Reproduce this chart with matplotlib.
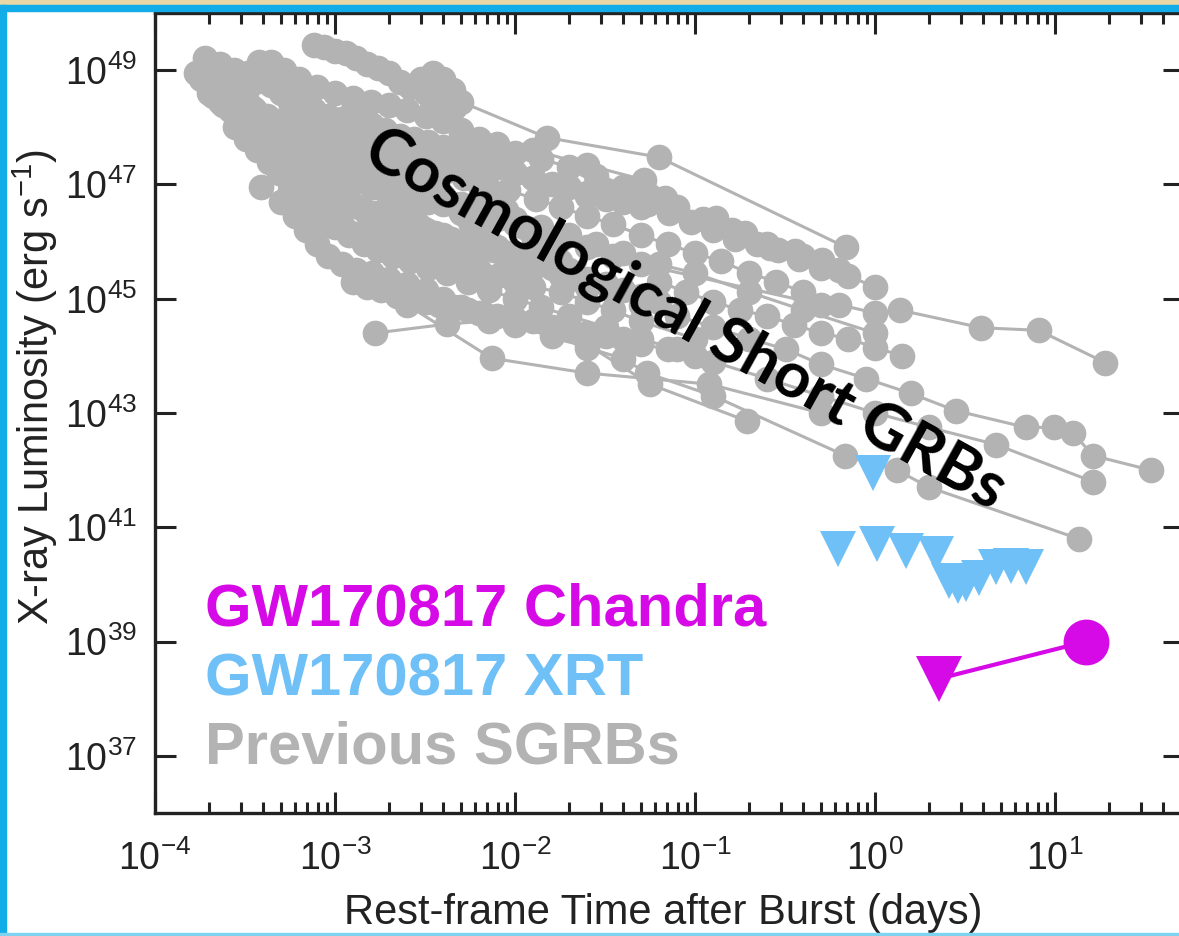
import matplotlib.pyplot as plt
from matplotlib.patches import Rectangle
from matplotlib.ticker import LogLocator, NullLocator, NullFormatter

plt.rcParams['font.family'] = 'Liberation Sans'
plt.rcParams['mathtext.fontset'] = 'custom'
plt.rcParams['mathtext.rm'] = 'Liberation Sans'
plt.rcParams['mathtext.it'] = 'Liberation Sans:italic'
plt.rcParams['mathtext.bf'] = 'Liberation Sans:bold'
plt.rcParams['mathtext.default'] = 'regular'
plt.rcParams['axes.unicode_minus'] = False

# Previous short GRBs: rest-frame time (days), X-ray luminosity (erg/s)
grb_a = ([1.9e-4, 2.3e-4, 2.75e-4, 3.3e-4, 3.8e-4, 4.4e-4, 5.2e-4, 6.3e-4, 7.9e-4, 1.0e-3, 1.26e-3,
          1.58e-3, 2.0e-3, 2.5e-3, 3.2e-3, 4.0e-3, 5.0e-3, 6.3e-3, 7.9e-3, 0.010, 0.014, 0.020, 0.028,
          0.040, 0.056, 0.079, 0.11, 0.16, 0.25, 0.40, 0.63],
         [1.6e49, 1.3e49, 1.0e49, 8.9e48, 1.4e49, 1.4e49, 1.0e49, 7.1e48, 5.0e48, 4.0e48, 3.2e48,
          2.8e48, 2.5e48, 2.0e48, 1.6e48, 1.3e48, 8.9e47, 6.3e47, 5.0e47, 3.5e47, 2.8e47, 2.0e47, 1.4e47,
          8.9e46, 6.3e46, 4.0e46, 2.5e46, 1.6e46, 8.9e45, 5.6e45, 3.2e45])
grb_b = ([1.7e-4, 2.1e-4, 2.5e-4, 3.0e-4, 3.6e-4, 4.4e-4, 5.2e-4, 6.3e-4, 7.6e-4, 9.1e-4, 1.1e-3,
          1.3e-3, 1.6e-3, 1.9e-3, 2.3e-3, 2.75e-3, 3.3e-3, 4.0e-3, 5.0e-3, 6.3e-3, 7.9e-3, 0.010,
          0.0126, 0.018, 0.025],
         [8.9e48, 1.0e49, 7.1e48, 5.6e48, 6.3e48, 5.6e48, 4.0e48, 2.8e48, 2.0e48, 1.6e48, 1.4e48,
          1.3e48, 1.1e48, 8.9e47, 7.1e47, 6.3e47, 5.6e47, 4.5e47, 3.5e47, 2.8e47, 2.0e47, 1.6e47,
          1.3e47, 8.9e46, 6.3e46])
grb_c = ([1.8e-4, 2.1e-4, 2.4e-4, 2.75e-4, 3.2e-4, 3.6e-4, 4.2e-4, 4.8e-4, 5.5e-4, 6.3e-4, 7.6e-4,
          9.1e-4, 1.1e-3, 1.3e-3, 1.6e-3, 2.0e-3, 2.5e-3, 3.2e-3, 4.0e-3, 5.2e-3, 6.9e-3, 9.1e-3,
          0.013, 0.018, 0.025, 0.035, 0.050, 0.071, 0.10, 0.14, 0.20, 0.28, 0.40, 0.63, 1.0, 1.38,
          3.9, 8.1, 19],
         [7.1e48, 5.6e48, 4.0e48, 3.2e48, 2.5e48, 2.0e48, 1.6e48, 1.3e48, 1.1e48, 1.0e48, 8.9e47,
          7.9e47, 6.3e47, 5.0e47, 4.0e47, 3.2e47, 2.5e47, 2.0e47, 1.6e47, 1.3e47, 1.0e47, 7.9e46,
          5.6e46, 4.0e46, 2.8e46, 2.0e46, 1.3e46, 8.9e45, 6.3e45, 4.5e45, 2.8e45, 2.0e45, 1.3e45,
          7.9e44, 5.6e44, 6.3e44, 3.1e44, 2.8e44, 7.6e43])
grb_d = ([3.2e-4, 3.6e-4, 4.2e-4, 5.0e-4, 6.0e-4, 7.2e-4, 8.7e-4, 1.05e-3, 1.26e-3, 1.5e-3, 1.8e-3,
          2.2e-3, 2.6e-3, 3.2e-3, 4.0e-3, 5.0e-3, 6.3e-3, 7.9e-3, 0.010, 0.0126, 0.018, 0.025, 0.035,
          0.050, 0.50],
         [1.6e48, 1.3e48, 1.0e48, 7.1e47, 5.0e47, 4.0e47, 3.2e47, 2.8e47, 2.5e47, 2.2e47, 1.8e47,
          1.4e47, 1.1e47, 8.9e46, 6.3e46, 4.5e46, 3.2e46, 2.5e46, 2.0e46, 1.6e46, 1.1e46, 7.9e45,
          5.6e45, 4.0e45, 7.9e44])
grb_e = ([2.1e-4, 2.4e-4, 2.75e-4, 3.2e-4, 3.6e-4, 4.2e-4, 4.8e-4, 5.5e-4, 6.3e-4, 7.6e-4, 9.1e-4,
          1.1e-3, 1.3e-3, 1.6e-3, 1.9e-3, 2.3e-3, 2.75e-3, 3.3e-3, 4.0e-3, 5.0e-3, 6.3e-3, 7.9e-3,
          0.010, 0.014, 0.020, 0.028, 0.040, 0.063, 0.10, 0.20, 0.40, 1.0],
         [3.5e48, 2.5e48, 1.8e48, 1.3e48, 8.9e47, 6.3e47, 4.5e47, 3.2e47, 2.8e47, 2.0e47, 1.6e47,
          1.3e47, 1.1e47, 8.9e46, 7.9e46, 7.1e46, 5.6e46, 5.0e46, 4.5e46, 4.0e46, 3.5e46, 2.8e46,
          2.2e46, 1.8e46, 1.3e46, 8.9e45, 6.3e45, 4.0e45, 2.8e45, 1.3e45, 6.3e44, 2.5e44])
grb_f = ([2.0e-4, 2.3e-4, 2.6e-4, 3.0e-4, 3.5e-4, 4.0e-4, 4.6e-4, 5.2e-4, 6.0e-4, 6.9e-4, 7.9e-4,
          9.5e-4, 1.15e-3, 1.4e-3, 1.66e-3, 2.0e-3, 2.5e-3, 3.2e-3, 4.0e-3, 5.0e-3, 6.3e-3, 8.9e-3,
          0.0126, 0.018, 0.025, 0.035, 0.050, 0.079, 0.126, 0.20, 0.32, 0.50, 0.89, 1.58, 2.8, 6.9,
          9.8, 12.6, 16.2, 34],
         [4.0e48, 2.8e48, 2.0e48, 1.3e48, 7.9e47, 5.0e47, 3.2e47, 2.2e47, 1.6e47, 1.1e47, 8.9e46,
          7.1e46, 5.6e46, 4.0e46, 3.2e46, 2.5e46, 2.0e46, 1.6e46, 1.3e46, 1.0e46, 7.1e45, 5.0e45,
          3.5e45, 2.5e45, 1.8e45, 1.3e45, 7.9e44, 5.0e44, 3.2e44, 2.0e44, 1.3e44, 7.1e43, 4.0e43,
          2.2e43, 1.1e43, 5.6e42, 5.6e42, 4.5e42, 1.8e42, 1.0e42])
grb_g = ([5.6e-4, 6.6e-4, 7.9e-4, 9.5e-4, 1.15e-3, 1.4e-3, 1.66e-3, 2.0e-3, 2.5e-3, 3.2e-3, 4.0e-3,
          5.0e-3, 6.3e-3, 7.9e-3, 0.010, 0.0126, 0.018, 0.025, 0.035, 0.050, 0.10],
         [7.9e46, 4.5e46, 2.5e46, 2.0e46, 1.6e46, 1.4e46, 1.3e46, 1.0e46, 8.9e45, 7.1e45, 5.6e45,
          4.0e45, 3.2e45, 2.5e45, 2.0e45, 1.6e45, 1.3e45, 8.9e44, 6.3e44, 4.0e44, 2.0e44])
grb_h = ([2.8e-4, 3.2e-4, 3.7e-4, 4.3e-4, 4.9e-4, 5.6e-4, 6.5e-4, 7.4e-4, 8.5e-4, 1.0e-3, 1.2e-3,
          1.45e-3, 1.74e-3, 2.1e-3, 2.6e-3, 3.3e-3, 4.2e-3, 5.5e-3, 7.2e-3, 0.010, 0.014, 0.020,
          0.032, 0.050, 0.079, 0.126, 0.25, 0.50, 1.0, 2.0, 4.7, 16.2],
         [1.0e48, 6.3e47, 4.0e47, 2.5e47, 1.6e47, 1.0e47, 6.3e46, 4.0e46, 2.5e46, 1.8e46, 1.3e46,
          8.9e45, 7.1e45, 5.6e45, 4.5e45, 3.5e45, 2.8e45, 2.0e45, 1.4e45, 1.0e45, 7.1e44, 5.0e44,
          3.2e44, 2.0e44, 1.3e44, 7.9e43, 4.0e43, 2.0e43, 1.0e43, 5.6e42, 2.8e42, 6.3e41])
grb_i = ([3.9e-4, 5.0e-4, 6.0e-4, 6.9e-4, 7.9e-4, 9.1e-4, 1.1e-3, 1.3e-3, 1.6e-3, 2.0e-3, 2.5e-3,
          3.2e-3, 4.0e-3, 5.0e-3, 6.3e-3, 0.010, 0.016, 0.025, 0.040, 0.054, 0.126, 0.68, 1.32, 2.0,
          13.5],
         [8.9e46, 5.0e46, 2.8e46, 1.6e46, 8.9e45, 5.6e45, 4.0e45, 3.2e45, 2.8e45, 2.2e45, 1.8e45,
          1.4e45, 1.0e45, 7.1e44, 5.6e44, 3.5e44, 2.2e44, 1.4e44, 8.9e43, 5.0e43, 2.0e43, 1.8e42,
          1.0e42, 5.0e41, 6.3e40])
grb_j = ([1.66e-3, 4.2e-3, 7.2e-3, 0.025, 0.056, 0.195],
         [2.5e44, 3.6e44, 4.1e44, 1.6e44, 3.2e43, 7.2e42])
grb_k = ([2.5e-3, 7.4e-3, 0.025, 0.12, 0.50],
         [7.9e44, 9.1e43, 5.0e43, 3.2e43, 1.0e43])
grb_l = ([7.6e-4, 8.7e-4, 1.0e-3, 1.15e-3, 1.3e-3, 1.5e-3, 1.74e-3, 2.0e-3, 2.3e-3, 2.6e-3, 3.2e-3,
          3.8e-3, 4.6e-3],
         [2.8e49, 2.5e49, 2.2e49, 2.0e49, 1.6e49, 1.3e49, 1.1e49, 8.9e48, 6.3e48, 5.0e48, 4.0e48,
          3.2e48, 2.2e48])
grb_m = ([3.0e-3, 3.5e-3, 4.0e-3, 4.5e-3, 5.0e-3, 0.015, 0.063, 0.69],
         [7.1e48, 8.9e48, 7.1e48, 4.5e48, 2.8e48, 6.6e47, 3.0e47, 7.9e45])
grb_n = ([5.0e-3, 0.0126, 0.025, 0.052, 0.068, 0.076, 0.13, 0.19, 0.26, 0.36, 0.51],
         [7.9e47, 4.0e47, 2.2e47, 1.2e47, 5.9e46, 3.5e46, 2.6e46, 1.4e46, 7.8e45, 6.9e45, 4.7e45])
grb_o = ([1.0e-3, 1.2e-3, 1.45e-3, 1.74e-3, 2.1e-3, 2.5e-3, 3.0e-3, 3.6e-3, 4.4e-3, 5.2e-3, 6.3e-3,
          7.6e-3, 9.1e-3, 0.011, 0.013, 0.016, 0.020, 0.025, 0.032, 0.040, 0.050, 0.063],
         [5.0e46, 4.0e46, 3.5e46, 2.8e46, 2.5e46, 2.0e46, 1.8e46, 1.4e46, 1.1e46, 1.0e46, 8.9e45,
          7.1e45, 6.3e45, 5.0e45, 4.0e45, 3.5e45, 2.8e45, 2.2e45, 1.8e45, 1.4e45, 1.1e45, 8.9e44])
grb_p = ([1.26e-3, 1.5e-3, 1.8e-3, 2.2e-3, 2.6e-3, 3.2e-3, 3.8e-3, 4.6e-3, 5.5e-3, 6.6e-3, 7.9e-3,
          0.010, 0.0126, 0.016, 0.020, 0.025, 0.032, 0.040, 0.050, 0.071, 0.10],
         [2.0e45, 1.6e45, 1.4e45, 1.1e45, 1.0e45, 8.9e44, 7.9e44, 7.1e44, 6.3e44, 5.6e44, 5.0e44,
          4.5e44, 4.0e44, 3.2e44, 2.8e44, 2.5e44, 2.2e44, 2.0e44, 1.6e44, 1.3e44, 1.0e44])
grb_q = ([1.26e-3, 1.5e-3, 1.8e-3, 2.2e-3, 2.6e-3, 3.2e-3, 3.8e-3, 4.6e-3, 5.5e-3, 6.6e-3, 7.9e-3,
          0.010, 0.0126, 0.016, 0.020, 0.025, 0.032, 0.040, 0.050],
         [8.9e47, 7.9e47, 7.1e47, 6.3e47, 5.0e47, 4.0e47, 3.5e47, 3.2e47, 2.8e47, 2.5e47, 2.0e47,
          1.6e47, 1.3e47, 1.0e47, 8.9e46, 7.1e46, 5.6e46, 5.0e46, 4.0e46])
grb_s = ([0.032, 0.042, 0.055, 0.072, 0.095, 0.126, 0.166, 0.22, 0.29, 0.38, 0.50, 0.71, 1.0],
         [7.9e46, 6.3e46, 4.5e46, 3.2e46, 2.2e46, 1.6e46, 1.1e46, 8.9e45, 7.1e45, 5.0e45, 3.5e45,
          2.5e45, 1.6e45])
grb_u = ([0.063, 0.089, 0.126, 0.178, 0.25, 0.355, 0.50, 0.71, 1.0, 1.41],
         [2.0e45, 1.3e45, 8.9e44, 6.3e44, 5.0e44, 3.5e44, 2.5e44, 2.0e44, 1.4e44, 1.0e44])
grb_w = ([5.0e-4, 5.6e-4, 6.3e-4, 7.1e-4, 7.9e-4, 8.9e-4, 1.0e-3, 1.12e-3, 1.26e-3, 1.41e-3,
          1.58e-3, 1.78e-3, 2.0e-3, 2.24e-3, 2.5e-3, 2.8e-3, 3.2e-3, 3.5e-3, 4.0e-3],
         [4.0e48, 2.8e48, 2.0e48, 1.4e48, 1.0e48, 7.1e47, 5.0e47, 3.5e47, 2.5e47, 1.8e47, 1.26e47,
          8.9e46, 6.3e46, 4.5e46, 3.2e46, 2.2e46, 1.6e46, 1.1e46, 8.9e45])
grb_x = ([1.26e-3, 1.41e-3, 1.58e-3, 1.78e-3, 2.0e-3, 2.24e-3, 2.5e-3, 2.8e-3, 3.2e-3, 3.5e-3,
          4.0e-3, 4.5e-3, 5.0e-3, 5.6e-3, 6.3e-3, 7.1e-3, 7.9e-3, 8.9e-3, 0.010],
         [2.0e48, 1.4e48, 1.0e48, 7.1e47, 5.0e47, 3.5e47, 2.5e47, 1.8e47, 1.26e47, 8.9e46, 6.3e46,
          4.5e46, 3.2e46, 2.2e46, 1.6e46, 1.1e46, 7.9e45, 5.6e45, 4.0e45])
grb_y = ([2.24e-4, 2.5e-4, 2.8e-4, 3.2e-4, 3.5e-4, 4.0e-4, 4.5e-4, 5.0e-4, 5.6e-4, 6.3e-4, 7.1e-4,
          7.9e-4, 8.9e-4, 1.0e-3],
         [1.0e49, 7.1e48, 5.0e48, 3.2e48, 2.2e48, 1.6e48, 1.0e48, 7.1e47, 5.0e47, 3.2e47, 2.2e47,
          1.6e47, 1.0e47, 7.1e46])
grb_z = ([4.0e-3, 4.5e-3, 5.0e-3, 5.6e-3, 6.3e-3, 7.1e-3, 7.9e-3, 8.9e-3, 0.010, 0.0112, 0.0126,
          0.0141, 0.0158, 0.0178, 0.020, 0.0224, 0.025],
         [4.0e47, 2.8e47, 2.0e47, 1.4e47, 1.0e47, 7.1e46, 5.0e46, 3.5e46, 2.5e46, 1.8e46, 1.26e46,
          8.9e45, 6.3e45, 4.5e45, 3.2e45, 2.2e45, 1.6e45])

previous_sgrbs = [grb_a, grb_b, grb_c, grb_d, grb_e, grb_f, grb_g, grb_h, grb_i, grb_j, grb_k,
                  grb_l, grb_m, grb_n, grb_o, grb_p, grb_q, grb_s, grb_u, grb_w, grb_x, grb_y, grb_z]

# GW170817 Swift/XRT upper limits
xrt_t = [0.975, 0.62, 1.03, 1.49, 2.18, 2.57, 2.88, 3.19, 3.77, 4.68, 5.66, 6.87]
xrt_L = [8.9e41, 4.1e40, 5.2e40, 3.8e40, 3.4e40, 1.13e40, 9.2e39, 1.0e40, 1.27e40, 2.0e40, 2.1e40,
         2.0e40]

# GW170817 Chandra: upper limit then detection
chandra_t = [2.26, 14.8]
chandra_L = [2.24e38, 1.0e39]

gray = '#b3b3b3'
xrt_blue = '#6ec0f7'
magenta = '#d60ae6'

fig = plt.figure(figsize=(11.79, 9.36), dpi=100)
fig.patch.set_facecolor('white')
ax = fig.add_axes([155 / 1179, 123 / 936, 1029 / 1179, 800 / 936])

for t, L in previous_sgrbs:
    ax.plot(t, L, '-o', color=gray, lw=2.2, ms=18.5, mew=0, zorder=2)

ax.plot(xrt_t, xrt_L, 'v', color=xrt_blue, ms=26, mew=0, zorder=4)
ax.plot(chandra_t, chandra_L, '-', color=magenta, lw=3, zorder=5)
ax.plot(chandra_t[:1], chandra_L[:1], 'v', color=magenta, ms=33, mew=0, zorder=5)
ax.plot(chandra_t[1:], chandra_L[1:], 'o', color=magenta, ms=33, mew=0, zorder=5)

ax.set_xscale('log')
ax.set_yscale('log')
ax.set_xlim(1e-4, 52)
ax.set_ylim(1e36, 1e50)

ax.set_xticks([1e-4, 1e-3, 1e-2, 1e-1, 1e0, 1e1])
ax.xaxis.set_minor_locator(LogLocator(base=10, subs=range(2, 10), numticks=30))
ax.xaxis.set_minor_formatter(NullFormatter())
ax.set_yticks([1e37, 1e39, 1e41, 1e43, 1e45, 1e47, 1e49])
ax.yaxis.set_minor_locator(NullLocator())

ax.tick_params(which='both', direction='in', top=True, right=True, width=2.2, colors='#222222',
               labelsize=27, labelcolor='#222222')
ax.tick_params(which='major', length=15)
ax.tick_params(which='minor', length=8)
ax.tick_params(axis='x', which='major', pad=20)
ax.tick_params(axis='y', which='major', pad=13)
for s in ax.spines.values():
    s.set_linewidth(2.4)
    s.set_color('#222222')

fig.text(663 / 1179, 1 - 924 / 936, 'Rest-frame Time after Burst (days)', fontsize=30,
         color='#222222', ha='center', va='baseline')
fig.text(35 / 1179, 1 - 387 / 936, 'X-ray Luminosity (erg s$^{-1}$)', fontsize=30,
         color='#222222', ha='center', va='center', rotation=90)

ax.text(0.0486, 0.235, 'GW170817 Chandra', transform=ax.transAxes, color=magenta,
        fontsize=43, fontweight='bold', va='baseline', zorder=6)
ax.text(0.0486, 0.1475, 'GW170817 XRT', transform=ax.transAxes, color=xrt_blue,
        fontsize=43, fontweight='bold', va='baseline', zorder=6)
ax.text(0.0486, 0.0625, 'Previous SGRBs', transform=ax.transAxes, color=gray,
        fontsize=43, fontweight='bold', va='baseline', zorder=6)

ax.text(0.515, 0.617, 'Cosmological Short GRBs', transform=ax.transAxes, family='Lato',
        fontweight='bold', fontsize=46, color='black', rotation=-29, rotation_mode='anchor',
        ha='center', va='center', zorder=7)

# slide frame around the figure
fig.patches.append(Rectangle((0, 931 / 936), 1, 5 / 936, transform=fig.transFigure,
                             color='#ead7a6', zorder=10))
fig.patches.append(Rectangle((0, 925 / 936), 1, 6 / 936, transform=fig.transFigure,
                             color='#12ade8', zorder=10))
fig.patches.append(Rectangle((0, 0), 6 / 1179, 931 / 936, transform=fig.transFigure,
                             color='#12ade8', zorder=10))
fig.patches.append(Rectangle((0, 0), 1, 3 / 936, transform=fig.transFigure,
                             color='#7dd3f0', zorder=10))

fig.savefig('out.png', dpi=100)
